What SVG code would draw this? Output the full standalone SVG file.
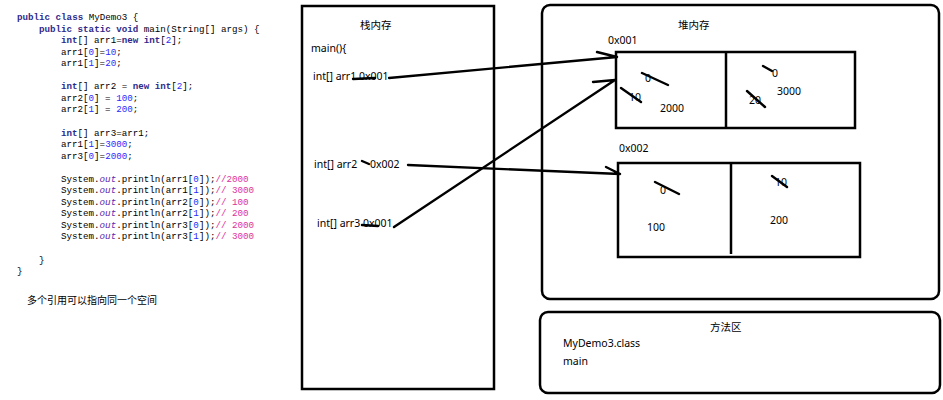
<svg xmlns="http://www.w3.org/2000/svg" width="943" height="400" viewBox="0 0 943 400">
<style>
.code{font-family:"Liberation Mono","DejaVu Sans Mono",monospace;font-size:9.2px;fill:#000;white-space:pre}
.kw{font-weight:bold;fill:#2e2a8c}
.num{fill:#2a2aff}
.fld{font-style:italic;fill:#5a1fb0}
.cmt{fill:#e0309a}
.t{font-family:"Noto Sans","Noto Sans CJK SC",sans-serif;font-size:10.5px;fill:#000}
.box{fill:none;stroke:#000;stroke-width:2.5}
.ln{fill:none;stroke:#000;stroke-width:2.4;stroke-linecap:round}
</style>
<rect width="943" height="400" fill="#fff"/>
<g id="code">
<text class="code" x="17" y="20"><tspan class="kw">public class</tspan> MyDemo3 {</text>
<text class="code" x="39" y="31.5"><tspan class="kw">public static void</tspan> main(String[] args) {</text>
<text class="code" x="61" y="43.1"><tspan class="kw">int</tspan>[] arr1=<tspan class="kw">new int</tspan>[<tspan class="num">2</tspan>];</text>
<text class="code" x="61" y="54.6">arr1[<tspan class="num">0</tspan>]=<tspan class="num">10</tspan>;</text>
<text class="code" x="61" y="66.2">arr1[<tspan class="num">1</tspan>]=<tspan class="num">20</tspan>;</text>
<text class="code" x="61" y="89.3"><tspan class="kw">int</tspan>[] arr2 = <tspan class="kw">new int</tspan>[<tspan class="num">2</tspan>];</text>
<text class="code" x="61" y="100.8">arr2[<tspan class="num">0</tspan>] = <tspan class="num">100</tspan>;</text>
<text class="code" x="61" y="112.4">arr2[<tspan class="num">1</tspan>] = <tspan class="num">200</tspan>;</text>
<text class="code" x="61" y="135.5"><tspan class="kw">int</tspan>[] arr3=arr1;</text>
<text class="code" x="61" y="147">arr1[<tspan class="num">1</tspan>]=<tspan class="num">3000</tspan>;</text>
<text class="code" x="61" y="158.6">arr3[<tspan class="num">0</tspan>]=<tspan class="num">2000</tspan>;</text>
<text class="code" x="61" y="181.7">System.<tspan class="fld">out</tspan>.println(arr1[<tspan class="num">0</tspan>]);<tspan class="cmt">//2000</tspan></text>
<text class="code" x="61" y="193.2">System.<tspan class="fld">out</tspan>.println(arr1[<tspan class="num">1</tspan>]);<tspan class="cmt">// 3000</tspan></text>
<text class="code" x="61" y="204.8">System.<tspan class="fld">out</tspan>.println(arr2[<tspan class="num">0</tspan>]);<tspan class="cmt">// 100</tspan></text>
<text class="code" x="61" y="216.3">System.<tspan class="fld">out</tspan>.println(arr2[<tspan class="num">1</tspan>]);<tspan class="cmt">// 200</tspan></text>
<text class="code" x="61" y="227.9">System.<tspan class="fld">out</tspan>.println(arr3[<tspan class="num">0</tspan>]);<tspan class="cmt">// 2000</tspan></text>
<text class="code" x="61" y="239.4">System.<tspan class="fld">out</tspan>.println(arr3[<tspan class="num">1</tspan>]);<tspan class="cmt">// 3000</tspan></text>
<text class="code" x="39" y="262.5">}</text>
<text class="code" x="17" y="274">}</text>
<text class="t" x="27" y="304" style="font-size:10px">多个引用可以指向同一个空间</text>
</g>
<g id="stack">
<rect class="box" x="302" y="6" width="192" height="383"/>
<text class="t" x="360" y="29">栈内存</text>
<text class="t" x="311" y="52">main(){</text>
<text class="t" x="313" y="80">int[] arr1</text>
<text class="t" x="359" y="80">0x001</text>
<text class="t" x="314" y="168">int[] arr2</text>
<text class="t" x="370" y="168">0x002</text>
<text class="t" x="317" y="227">int[] arr3</text>
<text class="t" x="363" y="227">0x001</text>
<path class="ln" d="M353 79 L375 78 M362 161 L369 164 M362 225 L378 226"/>
</g>
<g id="heap">
<rect class="box" x="542" y="5" width="397" height="294" rx="8"/>
<text class="t" x="678" y="29">堆内存</text>
<text class="t" x="608" y="44">0x001</text>
<rect class="box" x="616" y="52" width="239" height="76"/>
<line class="box" x1="726" y1="52" x2="726" y2="128"/>
<text class="t" x="645" y="82">0</text>
<text class="t" x="629" y="101">10</text>
<text class="t" x="660" y="112">2000</text>
<text class="t" x="772" y="77">0</text>
<text class="t" x="749" y="104">20</text>
<text class="t" x="777" y="95">3000</text>
<path class="ln" d="M642 73 L668 85 M621 88 L641 102 M763 66 L772 71 M747 91 L765 107"/>
<text class="t" x="619" y="152">0x002</text>
<rect class="box" x="618" y="163" width="242" height="94"/>
<line class="box" x1="731" y1="163" x2="731" y2="254"/>
<text class="t" x="660" y="194">0</text>
<text class="t" x="775" y="186">10</text>
<text class="t" x="647" y="231">100</text>
<text class="t" x="770" y="224">200</text>
<path class="ln" d="M655 182 L679 194 M772 176 L787 187"/>
</g>
<g id="method">
<rect class="box" x="540" y="312" width="400" height="81" rx="8"/>
<text class="t" x="710" y="331">方法区</text>
<text class="t" x="563" y="347">MyDemo3.class</text>
<text class="t" x="563" y="365">main</text>
</g>
<g id="connectors">
<path class="ln" d="M389 78 L617 57 M597 52 L617 57"/>
<path class="ln" d="M408 165 L620 174 M606 167 L620 174"/>
<path class="ln" d="M394 227 L615 80 M593 82 L615 80"/>
</g>
</svg>
